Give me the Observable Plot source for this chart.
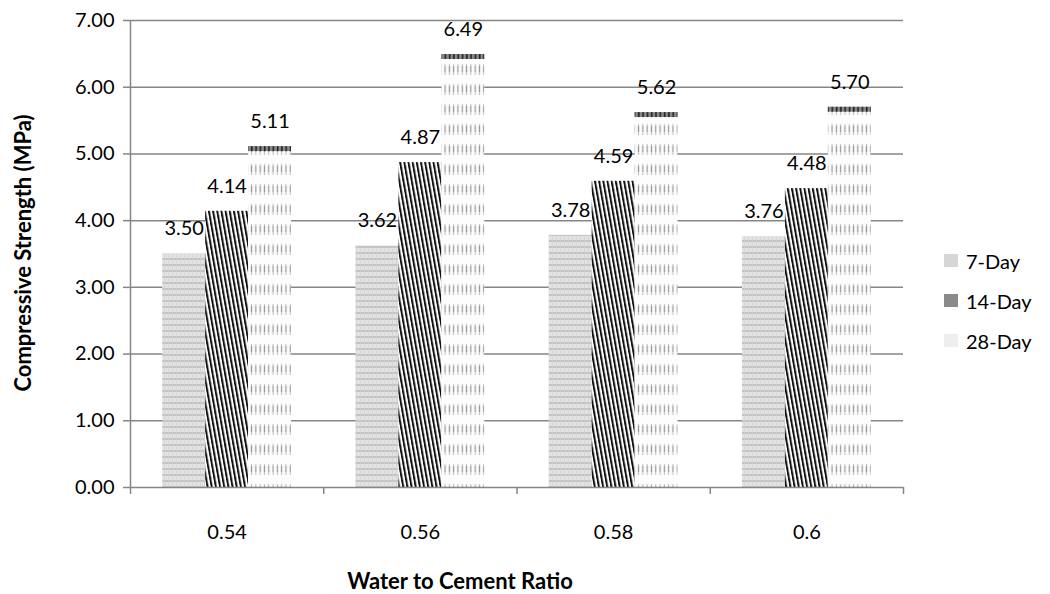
<!DOCTYPE html>
<html>
<head>
<meta charset="utf-8">
<script src="https://cdn.jsdelivr.net/npm/d3@7"></script>
<script src="https://cdn.jsdelivr.net/npm/@observablehq/plot@0.6"></script>
<style>
  html, body { margin: 0; padding: 0; background: #fff; }
  #chart svg { display: block; }
  g[aria-label="y-axis tick"], g[aria-label="x-axis tick"] { stroke: #868686 !important; stroke-width: 1.5px; }
  g[aria-label="y-axis"] .tick line, g[aria-label="x-axis"] .tick line { stroke: #868686; }
  g[aria-label="y-axis"] .domain, g[aria-label="x-axis"] .domain { display: none; }
</style>
</head>
<body>
<div id="chart"></div>
<script>
// Compressive strength by water/cement ratio and curing age
const ratios = ["0.54", "0.56", "0.58", "0.6"];
const series = ["7-Day", "14-Day", "28-Day"];
const day7 = [3.50, 3.62, 3.78, 3.76];
const day14 = [4.14, 4.87, 4.59, 4.48];
const day28 = [5.11, 6.49, 5.62, 5.70];
const yTicks = [0, 1, 2, 3, 4, 5, 6, 7];

const values = [day7, day14, day28];
const bars = ratios.flatMap((ratio, i) =>
  series.map((s, j) => ({ratio, i, series: s, j, value: values[j][i]}))
);

// Each category spans one unit on x; the three bars share the middle part of it
const gap = 1 / 3;
const barW = (1 - gap) / 3;
const x1 = d => d.i + gap / 2 + d.j * barW;
const x2 = d => x1(d) + barW;
const xc = d => x1(d) + barW / 2;

const font = "Lato, 'Open Sans', sans-serif";
const grid = "#868686";

const chart = Plot.plot({
  width: 1050,
  height: 594,
  marginLeft: 130,
  marginRight: 147,
  marginTop: 20,
  marginBottom: 107,
  style: {fontFamily: font, fontSize: "20px", background: "#fff", color: "#000"},
  x: {domain: [0, 4], ticks: [0, 1, 2, 3, 4], tickFormat: () => "", tickSize: 7, label: null},
  y: {domain: [0, 7], ticks: yTicks, tickFormat: d => d.toFixed(2), tickSize: 7, tickPadding: 9, label: null},
  color: {domain: series, range: ["url(#pat7)", "url(#pat14)", "url(#pat28)"]},
  marks: [
    Plot.ruleY(yTicks.slice(1), {stroke: grid, strokeWidth: 1.5}),
    Plot.rectY(bars, {x1, x2, y1: 0, y2: "value", fill: "series"}),
    Plot.rectY(bars.filter(d => d.j === 2), {x1, x2, y1: d => d.value - 0.075, y2: "value", fill: "url(#pat28top)"}),
    Plot.ruleX([0], {stroke: grid, strokeWidth: 1.5}),
    Plot.ruleY([0], {stroke: grid, strokeWidth: 1.5}),
    Plot.text(bars, {x: xc, y: "value", text: d => d.value.toFixed(2), dy: -25, fill: "#000"}),
    Plot.text(ratios, {x: (d, i) => i + 0.5, y: 0, text: d => d, dy: 45, fill: "#000"})
  ]
});

const svg = d3.select(chart);
const defs = svg.insert("defs", ":first-child");

// 7-Day: pale grey with fine horizontal banding
const p7 = defs.append("pattern").attr("id", "pat7").attr("patternUnits", "userSpaceOnUse")
  .attr("width", 4).attr("height", 6);
p7.append("rect").attr("width", 4).attr("height", 6).attr("fill", "#e2e2e2");
p7.append("rect").attr("width", 4).attr("height", 2).attr("fill", "#c4c4c4");
p7.append("rect").attr("width", 1).attr("height", 6).attr("fill", "#d2d2d2").attr("opacity", 0.7);

// 14-Day: steep black and white diagonal stripes
const p14 = defs.append("pattern").attr("id", "pat14").attr("patternUnits", "userSpaceOnUse")
  .attr("width", 4.1).attr("height", 10).attr("patternTransform", "rotate(-10)");
p14.append("rect").attr("width", 4.1).attr("height", 10).attr("fill", "#fff");
p14.append("rect").attr("width", 2).attr("height", 10).attr("fill", "#111");

// 28-Day: white with short grey vertical dashes
const p28 = defs.append("pattern").attr("id", "pat28").attr("patternUnits", "userSpaceOnUse")
  .attr("width", 4.3).attr("height", 20).attr("y", 2);
p28.append("rect").attr("width", 4.3).attr("height", 20).attr("fill", "#fdfdfd");
p28.append("rect").attr("x", 1.6).attr("y", 2).attr("width", 1.1).attr("height", 11).attr("fill", "#c0c0c0");
p28.append("rect").attr("x", 1.6).attr("y", 4).attr("width", 1.1).attr("height", 6).attr("fill", "#959595");

// dark cap along the top of each 28-Day bar
const pt = defs.append("pattern").attr("id", "pat28top").attr("patternUnits", "userSpaceOnUse")
  .attr("width", 4.3).attr("height", 10);
pt.append("rect").attr("width", 4.3).attr("height", 10).attr("fill", "#8a8a8a");
pt.append("rect").attr("x", 1.6).attr("width", 1.6).attr("height", 10).attr("fill", "#222");

// axis titles
svg.append("text")
  .attr("transform", "translate(22,253) rotate(-90)")
  .attr("text-anchor", "middle").attr("dominant-baseline", "central")
  .attr("font-family", font).attr("font-size", 22).attr("font-weight", "bold")
  .text("Compressive Strength (MPa)");
svg.append("text")
  .attr("x", 460).attr("y", 580)
  .attr("text-anchor", "middle").attr("dominant-baseline", "central")
  .attr("font-family", font).attr("font-size", 22).attr("font-weight", "bold")
  .text("Water to Cement Ratio");

// legend
const swatch = ["#d6d6d6", "#8a8a8a", "#eeeeee"];
const legend = svg.append("g").attr("font-family", font).attr("font-size", 20).attr("text-anchor", "start");
series.forEach((s, k) => {
  const cy = 261 + k * 40;
  legend.append("rect").attr("x", 944).attr("y", cy - 7).attr("width", 14).attr("height", 13).attr("fill", swatch[k]);
  legend.append("text").attr("x", 966).attr("y", cy).attr("dominant-baseline", "central").attr("fill", "#000").text(s);
});

document.getElementById("chart").appendChild(chart);
</script>
</body>
</html>
